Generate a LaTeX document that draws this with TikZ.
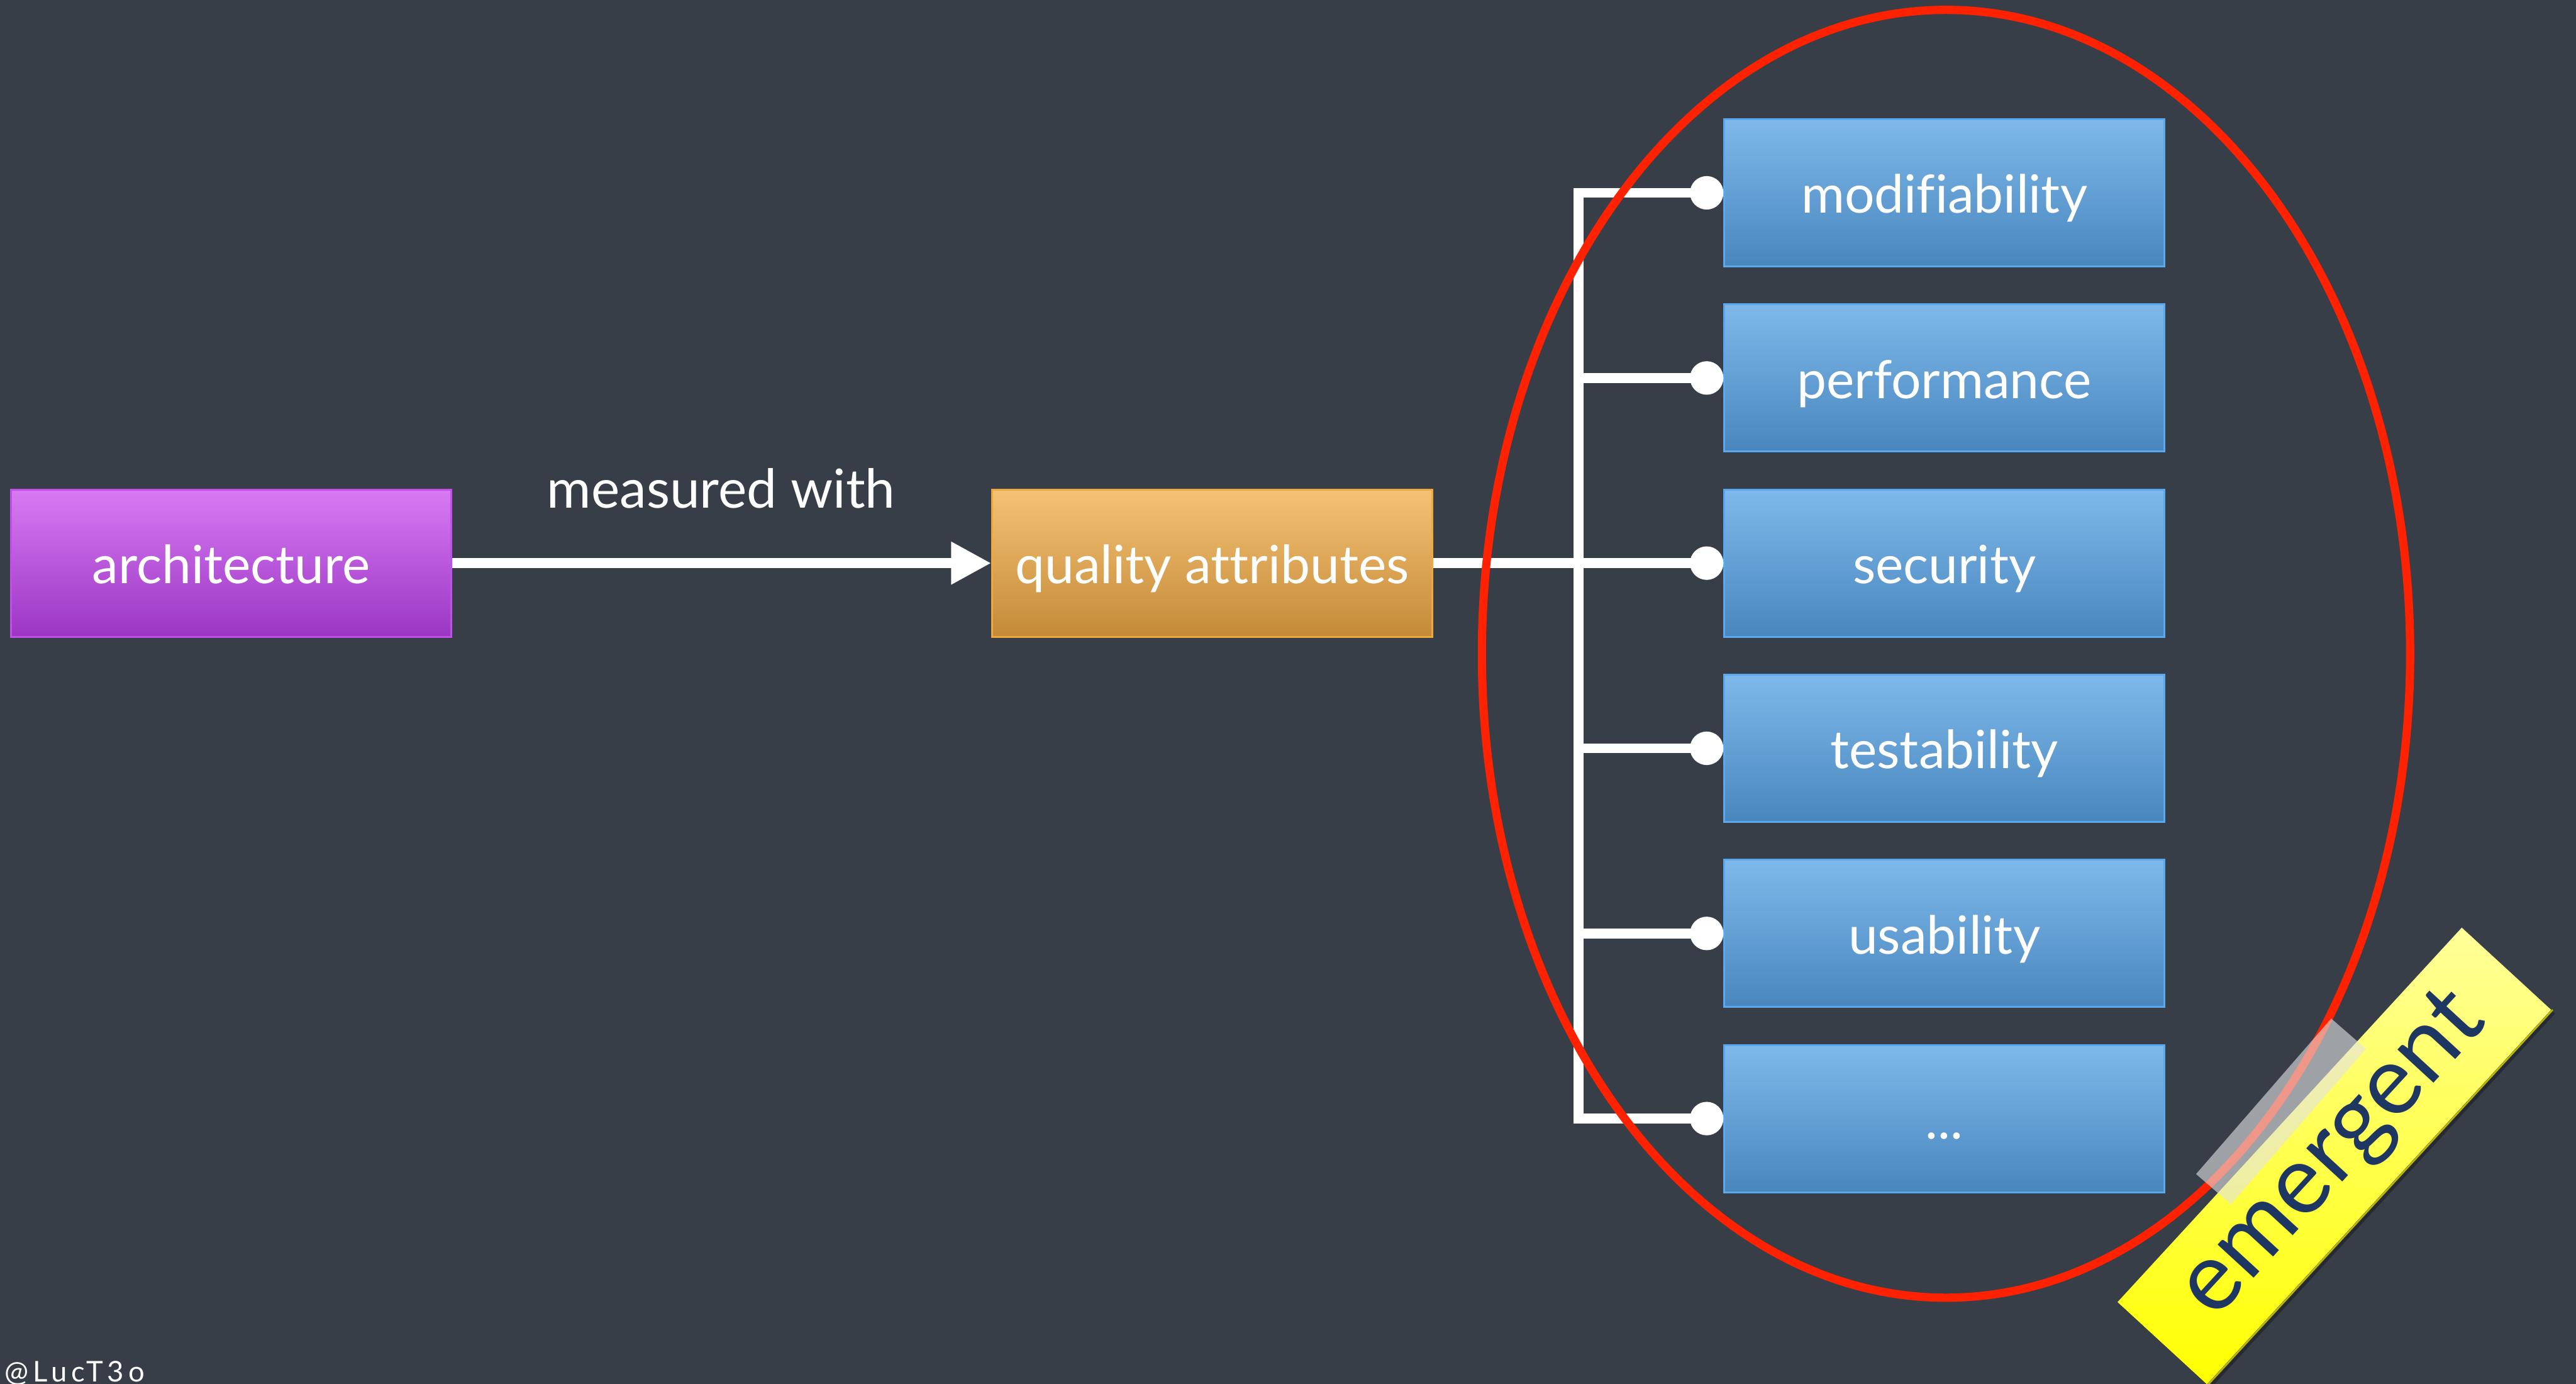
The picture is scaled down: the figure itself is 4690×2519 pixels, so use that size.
\documentclass[tikz,border=0pt]{standalone}
\usepackage{fontspec}
\setmainfont{Lato}[Ligatures=NoCommon]
\newfontfamily\handlefont[LetterSpace=15]{Lato}
\usetikzlibrary{arrows.meta,calc}

\definecolor{slate}{HTML}{373E48}
\definecolor{archtop}{HTML}{D87AF3}
\definecolor{archbot}{HTML}{9B36C3}
\definecolor{archedge}{HTML}{C24EEC}
\definecolor{qatop}{HTML}{F4C274}
\definecolor{qabot}{HTML}{C48A38}
\definecolor{qaedge}{HTML}{EFA83E}
\definecolor{bluetop}{HTML}{7FB9EB}
\definecolor{bluebot}{HTML}{4886BD}
\definecolor{blueedge}{HTML}{5AA8EE}
\definecolor{ringred}{HTML}{FF2200}
\definecolor{stickerlight}{HTML}{FFFF9A}
\definecolor{stickeryellow}{HTML}{FFFF00}
\definecolor{stickeredge}{HTML}{BDB800}
\definecolor{navy}{HTML}{1E3762}
\definecolor{tapegrey}{HTML}{E4E4E4}

\tikzset{
  box/.style={rectangle, minimum width=80.1pt, minimum height=26.8pt,
    inner sep=0pt, text=white, line width=0.35pt,
    font=\fontsize{9.6pt}{11pt}\selectfont,
    text height=9.4pt, text depth=2pt},
  archbox/.style={box, draw=archedge, top color=archtop, bottom color=archbot},
  qabox/.style={box, draw=qaedge, top color=qatop, bottom color=qabot},
  qualbox/.style={box, draw=blueedge, top color=bluetop, bottom color=bluebot},
  conn/.style={draw=white, line width=1.8pt},
  ring/.style={draw=ringred, line width=1.5pt},
  sticker/.style={rectangle, minimum width=92.6pt, minimum height=22.1pt,
    inner sep=0pt, rotate=47.4, text=navy,
    font=\fontsize{17.6pt}{19pt}\selectfont},
}

\begin{document}
\begin{tikzpicture}[x=0.1pt, y=0.1pt]
  % canvas
  \fill[slate] (0,0) rectangle (4690,-2519);
  \useasboundingbox (0,0) rectangle (4690,-2519);

  % main chain
  \node[archbox] (arch) at (421,-1025) {architecture};
  \node[qabox] (qa) at (2207,-1025) {quality attributes};
  \node[anchor=base, text=white, font=\fontsize{9.8pt}{11pt}\selectfont]
    (measured) at (1313,-925) {measured with};

  % the quality attributes
  \node[qualbox] (mod)  at (3540,-351)  {modifiability};
  \node[qualbox] (perf) at (3540,-688)  {performance};
  \node[qualbox] (sec)  at (3540,-1025) {security};
  \node[qualbox] (test) at (3540,-1362) {testability};
  \node[qualbox] (use)  at (3540,-1699) {usability};
  \node[qualbox] (more) at (3540,-2036) {...};

  % connectors
  \draw[conn, -{Triangle[length=7.3pt, width=7.3pt]}] (arch.east) -- (qa.west);

  \coordinate (trunk) at (2874,-1025);
  \draw[conn] ([xshift=-3pt]mod.west) -| (trunk) |- ([xshift=-3pt]more.west);
  \draw[conn] (qa.east) -- ([xshift=-3pt]sec.west);
  \foreach \q in {perf,test,use}
    \draw[conn] (trunk |- \q.west) -- ([xshift=-3pt]\q.west);
  \foreach \q in {mod,perf,sec,test,use,more}
    \fill[white] ([xshift=-3.05pt]\q.west) circle[radius=3.05pt];

  % ring round the attributes
  \draw[ring] (3543,-1190) ellipse [x radius=845, y radius=1172];

  % sticky note with its shadow
  \node[sticker, fill=black, opacity=0.3] (noteshadow) at (4257,-2111) {};
  \node[sticker, top color=stickerlight, bottom color=stickeryellow]
    (emergent) at (4250,-2104) {emergent};
  \draw[stickeredge, line width=0.3pt] (emergent.south west) -- (emergent.south east);

  % tape holding the note
  \node[rectangle, minimum width=37.5pt, minimum height=8.4pt, inner sep=0pt,
    rotate=49, fill=tapegrey, fill opacity=0.6] (tape) at (4153,-2023) {};

  % handle
  \node[anchor=base west, text=white, inner sep=0pt,
    font=\handlefont\fontsize{5.2pt}{6pt}\selectfont]
    (handle) at (7,-2515) {@LucT3o};
\end{tikzpicture}
\end{document}
